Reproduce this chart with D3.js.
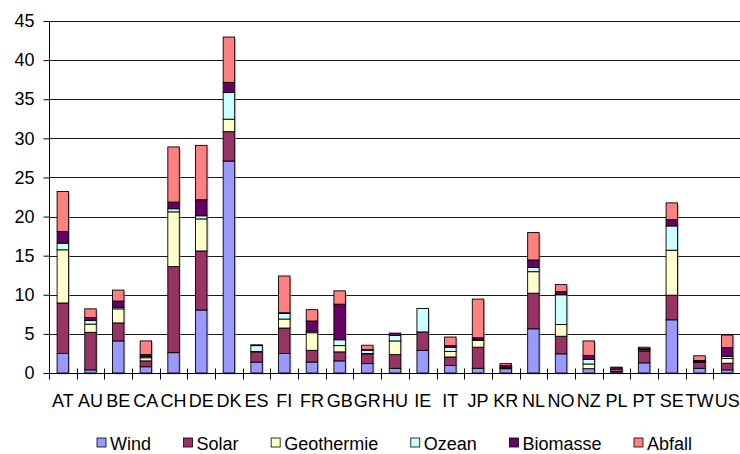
<!DOCTYPE html>
<html><head><meta charset="utf-8">
<script src="https://cdn.jsdelivr.net/npm/d3@7/dist/d3.min.js"></script>
<style>body{margin:0;background:#fff}svg{display:block;font-family:"Liberation Sans",Arial,sans-serif}</style>
</head><body><svg id="c" width="740" height="454"></svg>
<script>
const categories = ["AT","AU","BE","CA","CH","DE","DK","ES","FI","FR","GB","GR","HU","IE","IT","JP","KR","NL","NO","NZ","PL","PT","SE","TW","US"];
const seriesNames = ["Wind","Solar","Geothermie","Ozean","Biomasse","Abfall"];
const wind       = [2.5,0.4,4.1,0.8,2.6,8.05,27.1,1.4,2.5,1.4,1.55,1.2,0.6,2.9,0.95,0.6,0.55,5.65,2.45,0.55,0,1.3,6.8,0.6,0.4];
const solar      = [6.45,4.8,2.3,0.75,11.0,7.55,3.75,1.3,3.25,1.5,1.15,1.25,1.75,2.35,1.1,2.7,0.1,4.55,2.25,0,0.2,1.5,3.15,0.75,0.85];
const geothermie = [6.8,1.05,1.8,0.4,7.0,4.1,1.6,0.05,1.15,2.25,0.8,0.05,1.75,0,0.7,0.85,0,2.75,1.5,0.6,0.2,0.15,5.75,0.05,0.6];
const ozean      = [0.85,0.45,0.2,0.15,0.4,0.4,3.4,0.75,0.7,0.2,0.75,0.4,0.7,3.0,0.55,0.1,0.05,0.55,3.8,0.6,0,0.1,3.1,0.05,0.25];
const biomasse   = [1.5,0.4,0.8,0.25,0.85,2.05,1.3,0.1,0.1,1.3,4.55,0.1,0.3,0,0.2,0.25,0.25,0.95,0.4,0.5,0.35,0.05,0.8,0.15,1.15];
const abfall     = [5.1,1.1,1.4,1.75,7.05,6.95,5.8,0,4.7,1.45,1.7,0.55,0,0,1.1,4.95,0.25,3.5,0.9,1.85,0,0.2,2.15,0.6,1.6];
const yTicks = [0,5,10,15,20,25,30,35,40,45];
const colors = ["#9999FF","#993366","#FFFFCC","#CCFFFF","#660066","#FF8080"];

const values = [wind,solar,geothermie,ozean,biomasse,abfall];
const table = categories.map((c,i)=>{const o={cat:c};seriesNames.forEach((s,j)=>o[s]=values[j][i]);return o;});
const stacked = d3.stack().keys(seriesNames)(table);

const svg = d3.select("#c");
const L=49, R=741, T=21, B=373;
const x = d3.scaleBand().domain(categories).range([L,R]).paddingInner(0.585).paddingOuter(0.2925);
const y = d3.scaleLinear().domain([0,45]).range([B,T]);

// gridlines
svg.append("g").selectAll("line").data(yTicks.slice(1)).join("line")
  .attr("x1",L).attr("x2",R).attr("y1",d=>Math.round(y(d))+0.5).attr("y2",d=>Math.round(y(d))+0.5)
  .attr("stroke","#1a1a1a").attr("stroke-width",1);

// shadows
svg.append("g").selectAll("rect").data(table).join("rect")
  .attr("x",d=>x(d.cat)+1.5).attr("width",x.bandwidth())
  .attr("y",d=>y(d3.sum(seriesNames,s=>d[s]))+1.5)
  .attr("height",d=>B-y(d3.sum(seriesNames,s=>d[s])))
  .attr("fill","#999").attr("opacity",0.55);

// bars
svg.append("g").selectAll("g").data(stacked).join("g")
  .attr("fill",(d,i)=>colors[i])
  .selectAll("rect").data(d=>d.filter(p=>p[1]-p[0]>0)).join("rect")
  .attr("x",d=>x(d.data.cat)).attr("width",x.bandwidth())
  .attr("y",d=>y(d[1])).attr("height",d=>y(d[0])-y(d[1]))
  .attr("stroke","#000").attr("stroke-width",0.9);

// y axis
const yAxis = d3.axisLeft(y).tickValues(yTicks).tickSize(6).tickPadding(9);
const gy = svg.append("g").attr("transform",`translate(${L+0.5},0)`).call(yAxis);
gy.select(".domain").attr("stroke","#000").attr("d",`M0,${T}V${B}`);
gy.selectAll(".tick line").attr("stroke","#000");
gy.selectAll("text").attr("font-size",18).attr("fill","#000").attr("font-family","Liberation Sans, Arial, sans-serif");

// x axis
const gx = svg.append("g").attr("transform",`translate(0,${B+0.5})`);
gx.append("line").attr("x1",L).attr("x2",R).attr("stroke","#000");
const bounds = categories.map(c=>x(c)-x.step()*x.paddingInner()/2).concat([R]);
gx.selectAll(".tk").data(bounds).join("line").attr("class","tk")
  .attr("x1",d=>Math.round(d)+0.5).attr("x2",d=>Math.round(d)+0.5).attr("y1",-5).attr("y2",6).attr("stroke","#000");
gx.selectAll("text").data(categories).join("text")
  .attr("x",d=>x(d)+x.bandwidth()/2).attr("y",33).attr("text-anchor","middle")
  .attr("font-size",18).attr("fill","#000").text(d=>d);

// legend
const lg = svg.append("g").attr("transform","translate(0,443)");
const items = lg.selectAll("g").data(seriesNames).join("g");
items.append("rect").attr("width",9).attr("height",9).attr("y",-5).attr("fill",(d,i)=>colors[i]).attr("stroke","#000").attr("stroke-width",0.8);
items.append("text").attr("x",13).attr("y",6.5).attr("font-size",18).attr("fill","#000").text(d=>d);
const widths = items.nodes().map(n=>13+n.querySelector("text").getComputedTextLength());
const start=97, end=692;
const gap = (end-start-d3.sum(widths))/(seriesNames.length-1);
let cx=start;
items.each(function(d,i){d3.select(this).attr("transform",`translate(${cx},0)`);cx+=widths[i]+gap;});
</script></body></html>
